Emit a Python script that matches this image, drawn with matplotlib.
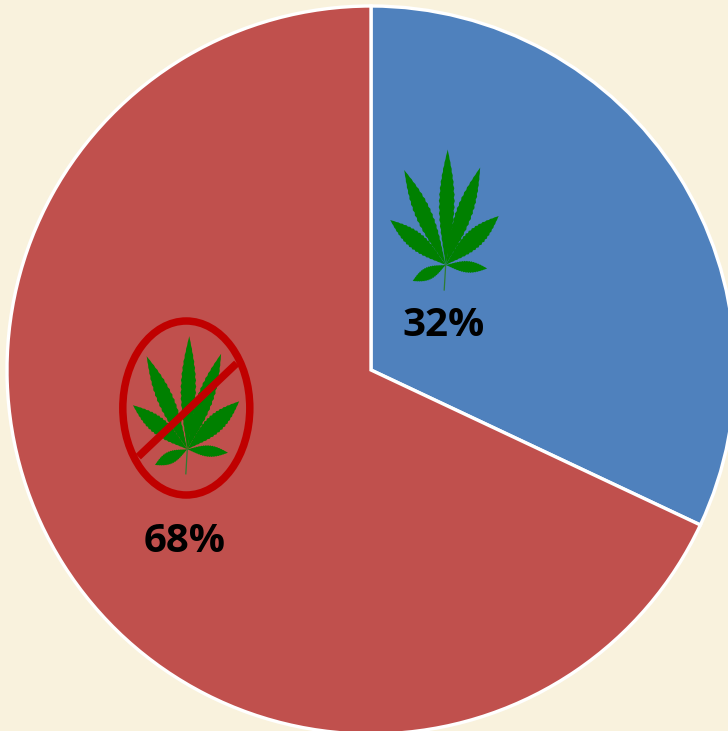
import numpy as np
import matplotlib
matplotlib.use("Agg")
import matplotlib.pyplot as plt
from matplotlib.patches import Ellipse, Polygon

# share of each group
shares = [32, 68]
labels = ["32%", "68%"]
slice_colors = ["#4F81BD", "#C0504D"]

BG = "#F9F2DD"
LEAF = "#008000"
BAN = "#C00000"

# leaf blades: tip offset from the leaf base and half width, in pixels
blades = [
    (2.0, -115.5, 8.0),
    (-41.5, -95.0, 8.5),
    (34.5, -97.5, 8.5),
    (-55.5, -45.0, 9.0),
    (53.0, -49.0, 9.5),
    (-33.0, 16.0, 6.5),
    (41.5, 3.5, 6.0),
]


def blade_outline(bx, by, dx, dy, half_w, teeth=18):
    # serrated blade from base to tip
    length = np.hypot(dx, dy)
    ux, uy = dx / length, dy / length
    nx, ny = -uy, ux
    t = np.linspace(0, 1, teeth * 2 + 1)
    w = half_w * np.sin(np.pi * t ** 1.1)
    w = w * np.where(np.arange(t.size) % 2 == 0, 1.0, 0.88)
    left = np.column_stack([bx + dx * t + nx * w, by + dy * t + ny * w])
    right = np.column_stack([bx + dx * t - nx * w, by + dy * t - ny * w])
    return np.vstack([left, right[::-1]])


def draw_leaf(ax, bx, by, scale=1.0):
    for dx, dy, half_w in blades:
        pts = blade_outline(bx, by, dx * scale, dy * scale, half_w * scale)
        ax.add_patch(Polygon(pts, closed=True, fc=LEAF, ec="none", zorder=3))
    ax.plot([bx, bx - 1.5 * scale], [by, by + 25 * scale], color="#2E7D32", lw=0.9, zorder=3)


fig = plt.figure(figsize=(7.28, 7.31), dpi=100, facecolor=BG)
ax = fig.add_axes([0, 0, 1, 1])

# y axis runs downward here, so 270 is the top of the pie and angles go clockwise
ax.pie(shares, colors=slice_colors, startangle=270, counterclock=True,
       center=(371, 370), radius=364,
       wedgeprops={"edgecolor": "white", "linewidth": 2.4})
ax.set_xlim(0, 728)
ax.set_ylim(731, 0)
ax.set_aspect("equal")
ax.axis("off")

draw_leaf(ax, 445.7, 265)
draw_leaf(ax, 187.3, 449.3, 0.98)

# prohibition sign over the second leaf
ax.add_patch(Ellipse((186.3, 408), 127, 174, fc="none", ec=BAN, lw=5.4, zorder=4))
ax.plot([138.3, 236.7], [456.7, 363.3], color=BAN, lw=5.4, solid_capstyle="butt", zorder=4)

ax.text(443.5, 325, labels[0], fontsize=29, fontweight="bold", family="Open Sans",
        ha="center", va="center", color="black", zorder=5)
ax.text(185, 541, labels[1], fontsize=29, fontweight="bold", family="Open Sans",
        ha="center", va="center", color="black", zorder=5)

fig.savefig("out.png", dpi=100, facecolor=BG)
